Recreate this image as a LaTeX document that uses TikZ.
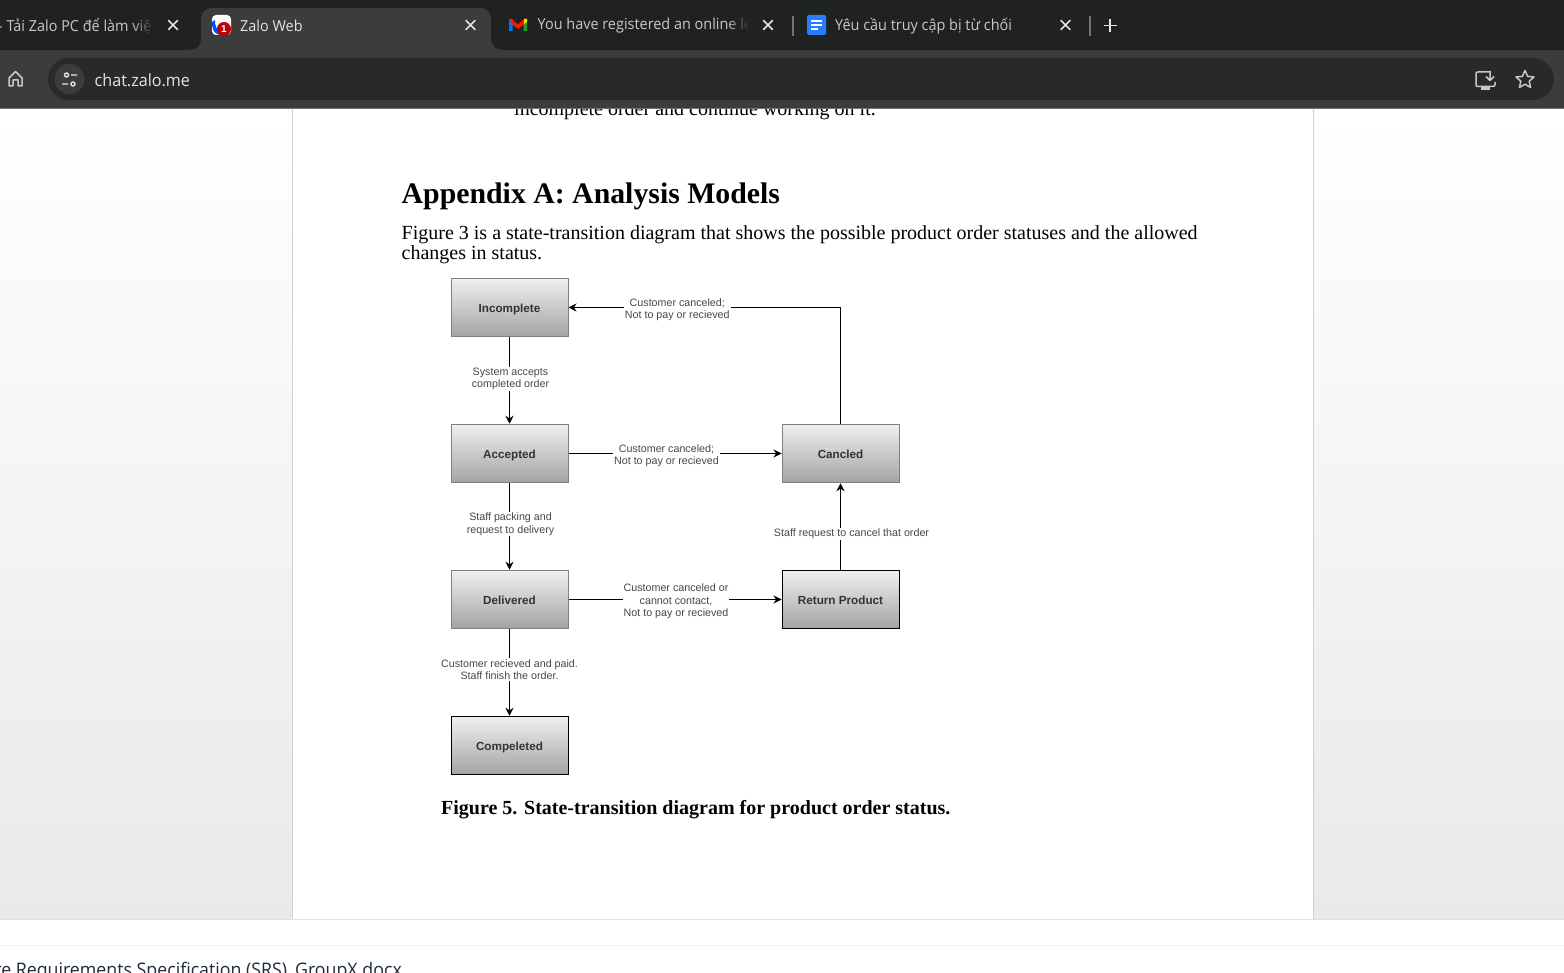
\documentclass[tikz,border=0pt]{standalone}
\usepackage{fontspec}
\setmainfont{Liberation Serif}
\newfontfamily\uifont[FakeStretch=0.95]{Open Sans}
\newfontfamily\lblfont{Liberation Sans}
\usetikzlibrary{arrows.meta,calc,fadings}
\definecolor{chromedark}{HTML}{202221}
\definecolor{chromebar}{HTML}{3C3C3C}
\definecolor{chromebox}{HTML}{292929}
\definecolor{uitext}{HTML}{E3E3E3}
\definecolor{uitextdim}{HTML}{C8C8C8}
\definecolor{sidegrey}{HTML}{EBE9E7}
\definecolor{filetext}{HTML}{1F2A3A}
\tikzset{
  statebox/.style={draw=#1,line width=1pt,minimum width=117pt,minimum height=58.5pt,inner sep=0pt,
    text height=10pt,text depth=0pt,
    top color=black!6,bottom color=black!36,font=\lblfont\fontsize{11.7}{14}\selectfont\bfseries,text=black!80},
  statebox/.default={black!50},
  conn/.style={line width=1.1pt,black,-{Stealth[length=8pt,width=8pt]}},
  edgelabel/.style={fill=white,inner xsep=1pt,inner ysep=1pt,align=center,text=black!72,font=\lblfont\fontsize{10.7}{12.5}\selectfont},
  tabtext/.style={anchor=west,inner sep=0pt,text=uitextdim,font=\uifont\fontsize{15.2}{17}\selectfont},
  closex/.style={uitext,line width=1.5pt,line cap=round},
  icon/.style={uitextdim,line width=1.5pt,line join=round},
  doctext/.style={anchor=west,inner sep=0pt,text=black},
}
\begin{document}
\begin{tikzpicture}[x=1pt,y=-1pt]
\useasboundingbox (0,0) rectangle (1564,973);
\clip (0,0) rectangle (1564,973);
% page surroundings
\fill[white] (0,0) rectangle (1564,973);
\shade[top color=white,bottom color=sidegrey] (0,109) rectangle (292,919);
\shade[top color=white,bottom color=sidegrey] (1314,109) rectangle (1564,919);
\fill[white] (293,109) rectangle (1313,919);
\draw[black!18,line width=1pt] (292.5,109) -- (292.5,919);
\draw[black!18,line width=1pt] (1313.5,109) -- (1313.5,919);
\draw[black!12,line width=1pt] (0,919.5) -- (1564,919.5);
\draw[black!5,line width=1pt] (0,945.5) -- (1564,945.5);
% page text
\node[doctext,font=\fontsize{20}{20}\selectfont] (cut) at (514,111) {incomplete order and continue working on it.};
\node[doctext,font=\fontsize{29.8}{32}\selectfont\bfseries] (head) at (401.5,196.5) {Appendix A: Analysis Models};
\node[doctext,font=\fontsize{20}{20}\selectfont] (para1) at (401.5,234.5) {Figure 3 is a state-transition diagram that shows the possible product order statuses and the allowed};
\node[doctext,font=\fontsize{20}{20}\selectfont] (para2) at (401.5,254.5) {changes in status.};
\node[doctext,font=\fontsize{20}{20}\selectfont\bfseries] (cap) at (441,809.5) {Figure 5. State-transition diagram for product order status.};
\node[anchor=east,inner sep=0pt,text=filetext,font=\uifont\fontsize{18.7}{20}\selectfont] (file) at (402,972) {re Requirements Specification (SRS)\_GroupX.docx};
% state boxes
\node[statebox] (inc) at (509.5,307.5) {Incomplete};
\node[statebox] (acc) at (509.5,453.5) {Accepted};
\node[statebox] (del) at (509.5,599.5) {Delivered};
\node[statebox=black] (com) at (509.5,745.5) {Compeleted};
\node[statebox] (can) at (840.5,453.5) {Cancled};
\node[statebox=black] (ret) at (840.5,599.5) {Return Product};
% connectors
\draw[conn] (inc) -- node[edgelabel,pos=.5,yshift=1.5pt,xshift=1pt] {System accepts\\completed order} (acc);
\draw[conn] (acc) -- node[edgelabel,pos=.46,yshift=-1pt,xshift=1pt] {Staff packing and\\request to delivery} (del);
\draw[conn] (del) -- node[edgelabel,pos=.42,yshift=-4pt] {Customer recieved and paid.\\Staff finish the order.} (com);
\draw[conn] (acc) -- node[edgelabel,pos=.46,yshift=-2pt] {Customer canceled;\\Not to pay or recieved} (can);
\draw[conn] (del) -- node[edgelabel,pos=.5,yshift=-2pt,xshift=1pt] {Customer canceled or\\cannot contact,\\Not to pay or recieved} (ret);
\draw[conn] (ret) -- node[edgelabel,pos=.43,yshift=-1pt,xshift=11pt] {Staff request to cancel that order} (can);
\draw[conn] (can) |- node[edgelabel,pos=.8,yshift=-2pt] {Customer canceled;\\Not to pay or recieved} (inc);
% browser chrome
\fill[chromedark] (0,0) rectangle (1564,50);
\fill[chromebar] (0,50) rectangle (1564,109);
\fill[black!55] (0,108.5) rectangle (1564,109.5);
\fill[chromebar] (188,50) .. controls (198,50) and (201,46) .. (201,38) -- (201,20) .. controls (201,12) and (205,8) .. (213,8)
  -- (479,8) .. controls (487,8) and (491,12) .. (491,20) -- (491,38) .. controls (491,46) and (495,50) .. (505,50) -- cycle;
\fill[chromebox,rounded corners=21pt] (48,58) rectangle (1554,100);
% tabs
\node[tabtext] (tab1) at (-2,26) {- Tải Zalo PC để làm việ};
\fill[chromedark,path fading=west] (132,14) rectangle (153,36);
\draw[closex] (168.5,20.5) -- (177.5,29.5) (177.5,20.5) -- (168.5,29.5);
\node[tabtext,text=uitext] (tab2) at (240,25.5) {Zalo Web};
\draw[closex] (466,20.5) -- (475,29.5) (475,20.5) -- (466,29.5);
\node[tabtext] (tab3) at (537.5,26) {You have registered an online le};
\fill[chromedark,path fading=west] (728,14) rectangle (749,36);
\fill[chromedark] (748,14) rectangle (756,36);
\draw[closex] (763.5,20.5) -- (772.5,29.5) (772.5,20.5) -- (763.5,29.5);
\fill[black!55] (792,16) rectangle (793.5,36);
\node[tabtext] (tab4) at (835,26) {Yêu cầu truy cập bị từ chối};
\draw[closex] (1061,20.5) -- (1070,29.5) (1070,20.5) -- (1061,29.5);
\fill[black!55] (1089,16) rectangle (1090.5,36);
\draw[uitext,line width=1.7pt] (1103.5,25.5) -- (1116.5,25.5) (1110,19) -- (1110,32);
% zalo icon
\fill[white,rounded corners=4pt] (212,15) rectangle (231,35);
\fill[blue!70!cyan] (212,22) .. controls (212,30) and (214,35) .. (222,35) -- (222,32) .. controls (216,30) and (215,26) .. (215,20) -- cycle;
\fill[red!75!black] (224,29) circle (7pt);
\node[inner sep=0pt,text=white,font=\lblfont\fontsize{10}{10}\selectfont\bfseries] (badge) at (224,29.5) {1};
% gmail icon
\fill[red!85!orange] (509,19) -- (512,19) -- (518,24.5) -- (524,19) -- (527,19) -- (527,22) -- (518,29) -- (509,22) -- cycle;
\fill[blue!55!cyan] (509,21) -- (512.5,23.5) -- (512.5,31) -- (509,31) -- cycle;
\fill[green!55!black!85!white] (527,21) -- (523.5,23.5) -- (523.5,31) -- (527,31) -- cycle;
\fill[yellow!85!orange] (524,19) -- (527,19) -- (527,22) -- (524,24) -- cycle;
% docs icon
\fill[blue!60!cyan!85!white,rounded corners=1.5pt] (807,15) rectangle (826,35);
\draw[white,line width=1.8pt] (811,21) -- (822,21) (811,25) -- (822,25) (811,29) -- (818,29);
% toolbar icons
\draw[icon] (9,78) -- (15.5,71.5) -- (22,78) -- (22,86) -- (18,86) -- (18,80) -- (13,80) -- (13,86) -- (9,86) -- cycle;
\fill[chromebar] (69.5,79) circle (15pt);
\draw[uitext,line width=1.4pt] (66.5,75) circle (2pt) (71,75) -- (77,75) (62,84) -- (68,84) (73,84) circle (2pt);
\node[anchor=west,inner sep=0pt,text=uitext,font=\uifont\fontsize{17}{20}\selectfont] (url) at (94.5,80) {chat.zalo.me};
\draw[icon] (1490,72) -- (1478,72) .. controls (1476.5,72) and (1476,72.5) .. (1476,74) -- (1476,85) .. controls (1476,86) and (1476.5,86.5) .. (1478,86.5) -- (1493,86.5) .. controls (1494,86.5) and (1495,86) .. (1495,84.5) -- (1495,82);
\fill[uitextdim] (1481,87) rectangle (1490,90);
\draw[icon] (1490,71) -- (1490,80) (1486,76.5) -- (1490,80.5) -- (1494,76.5);
\draw[icon] (1525,70.5) -- (1527.6,76.4) -- (1534,77) -- (1529.2,81.2) -- (1530.6,87.5) -- (1525,84.2) -- (1519.4,87.5) -- (1520.8,81.2) -- (1516,77) -- (1522.4,76.4) -- cycle;
\end{tikzpicture}
\end{document}
